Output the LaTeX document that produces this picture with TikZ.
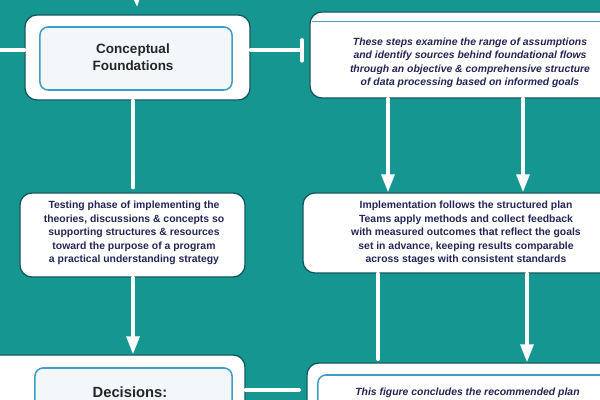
\documentclass[tikz,border=0pt]{standalone}
\usepackage{fontspec}
\setmainfont{Liberation Sans}
\usepackage{xcolor}
\usepackage{tikz}
\usetikzlibrary{arrows.meta}
\usetikzlibrary{positioning}
\definecolor{fundo}{RGB}{22,150,144}
\definecolor{borda}{RGB}{14,84,92}
\definecolor{aro}{RGB}{62,158,200}
\definecolor{papel}{RGB}{243,247,249}
\definecolor{tinta}{RGB}{36,38,88}
\tikzset{
  painel/.style={draw=borda, line width=0.9pt, fill=white, rounded corners=0.3cm},
  interno/.style={draw=aro, line width=1.1pt, fill=papel, rounded corners=0.2cm},
  texto/.style={text=tinta, align=center, font=\bfseries\fontsize{7.4}{9.6}\selectfont, inner sep=0pt},
  titulo/.style={text=black!85, align=center, font=\bfseries\fontsize{9.6}{12}\selectfont, inner sep=0pt},
  ligacao/.style={white, line width=2.6pt, line cap=round},
  seta/.style={ligacao, -{Triangle[width=0.32cm, length=0.45cm]}},
}
\begin{document}
\begin{tikzpicture}[x=0.025cm, y=-0.025cm]
  \useasboundingbox (0,0) rectangle (600,400);
  \clip (0,0) rectangle (600,400);
  \fill[fundo] (0,0) rectangle (600,400);
  % colunas e linhas das ligacoes
  \coordinate (entrada) at (135,-30);
  \coordinate (lado) at (-10,50);
  \coordinate (junta) at (302,50);
  \coordinate (linha) at (0,390);
  \coordinate (colE) at (133,0);
  \coordinate (colA) at (388,0);
  \coordinate (colB) at (523,0);
  \coordinate (colC) at (378,0);
  \coordinate (colD) at (527,0);
  % caixas da esquerda
  \node[painel, minimum width=5.625cm, minimum height=2.125cm] (base) at (137.5,57.5) {};
  \node[interno, minimum width=4.8cm, minimum height=1.575cm] (basein) at (136,58.5) {};
  \node[titulo] (basetxt) at (133,57) {Conceptual\\Foundations};
  \node[painel, minimum width=5.625cm, minimum height=2.1cm] (meio) at (132.5,235) {};
  \node[texto] (meiotxt) at (134,233) {Testing phase of implementing the\\
    theories, discussions \& concepts so\\
    supporting structures \& resources\\
    toward the purpose of a program\\
    a practical understanding strategy};
  \node[painel, minimum width=6.5cm, minimum height=2.25cm] (fim) at (115,400) {};
  \node[interno, minimum width=4.925cm, minimum height=2.05cm] (fimin) at (133.5,409) {};
  \node[titulo, font=\bfseries\fontsize{10.5}{12}\selectfont] (fimtxt) at (130,392) {Decisions:};
  % caixas da direita
  \node[painel, minimum width=8.5cm, minimum height=2.15cm] (topo) at (480,55) {};
  \draw[aro, line width=1.1pt] ([shift={(0.06cm,-0.25cm)}]topo.north west) -- ([yshift=-0.25cm]topo.north east);
  \node[texto, font=\bfseries\itshape\fontsize{7.4}{9.6}\selectfont] (topotxt) at (470,63) {These steps examine the range of assumptions\\
    and identify sources behind foundational flows\\
    through an objective \& comprehensive structure\\
    of data processing based on informed goals};
  \node[painel, minimum width=8.675cm, minimum height=2cm] (acao) at (476.5,233) {};
  \node[texto] (acaotxt) at (466,233) {Implementation follows the structured plan\\
    Teams apply methods and collect feedback\\
    with measured outcomes that reflect the goals\\
    set in advance, keeping results comparable\\
    across stages with consistent standards};
  \node[painel, minimum width=8.575cm, minimum height=2.175cm] (saida) at (478.5,406.5) {};
  \node[interno, fill=white, minimum width=8.55cm, minimum height=2.125cm] (saidain) at (489,417.5) {};
  \node[texto, font=\bfseries\itshape\fontsize{7.4}{9.6}\selectfont, anchor=west] (saidatxt) at (355,393) {This figure concludes the recommended plan};
  % ligacoes
  \draw[seta, shorten >=0.18cm] (entrada) -- (base.north);
  \draw[ligacao] (lado) -- (lado -| base.west);
  \draw[ligacao] (junta -| base.east) -- (junta);
  \draw[ligacao] ([yshift=0.25cm]junta) -- ([yshift=-0.27cm]junta);
  \draw[ligacao, shorten >=0.12cm] (base.south -| colE) -- (meio.north -| colE);
  \draw[seta] (meio.south -| colE) -- (fim.north -| colE);
  \draw[seta] (topo.south -| colA) -- (acao.north -| colA);
  \draw[seta] (topo.south -| colB) -- (acao.north -| colB);
  \draw[ligacao, shorten >=0.08cm] (acao.south -| colC) -- (saida.north -| colC);
  \draw[seta] (acao.south -| colD) -- (saida.north -| colD);
  \draw[ligacao, shorten >=0.18cm] (linha -| fim.east) -- (linha -| saida.west);
\end{tikzpicture}
\end{document}
